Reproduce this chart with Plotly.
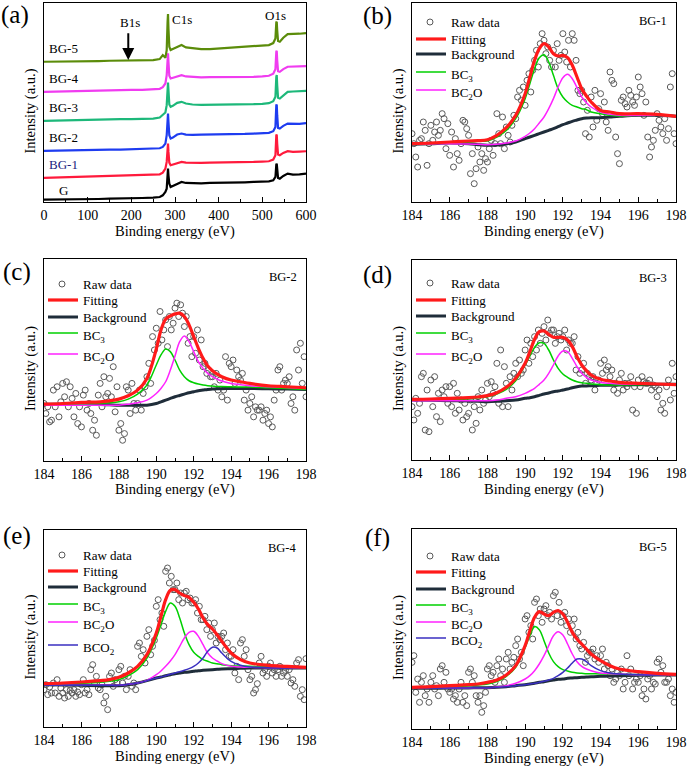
import numpy as np
import plotly.graph_objects as go

FONT = "Liberation Serif, 'Times New Roman', Times, serif"

# ---------------- (a) survey spectra ----------------
survey_x = [0, 25, 50, 75, 100, 125, 150, 175, 200, 225, 250, 265, 272, 278, 281, 283, 284, 285, 287, 290,
            295, 305, 315, 325, 340, 360, 380, 400, 420, 440, 460, 480, 500, 515, 525, 530, 532, 533, 534, 536,
            540, 548, 558, 570, 585, 600]
survey_G = [7, 7, 8, 8, 9, 9, 10, 10, 11, 12, 13, 15, 20, 30, 40, 80, 100, 80, 55, 45,
            48, 56, 60, 57, 56, 56, 57, 57, 58, 58, 59, 60, 61, 62, 65, 75, 112, 115, 100, 72,
            70, 78, 85, 82, 83, 85]
survey_BG1 = [72, 73, 74, 75, 76, 77, 78, 78, 79, 80, 81, 83, 88, 100, 120, 165, 175, 150, 118, 110,
              112, 118, 120, 118, 117, 117, 118, 118, 119, 119, 120, 120, 121, 122, 127, 140, 200, 202, 175, 142,
              140, 147, 152, 150, 151, 152]
survey_BG2 = [153, 154, 154, 155, 156, 156, 157, 157, 158, 158, 159, 161, 165, 175, 200, 250, 265, 240, 200, 190,
              193, 202, 205, 202, 201, 202, 202, 204, 203, 203, 204, 205, 205, 207, 212, 225, 290, 292, 260, 222,
              220, 228, 235, 234, 234, 236]
survey_BG3 = [243, 244, 244, 245, 246, 246, 247, 248, 248, 249, 250, 253, 260, 268, 290, 345, 358, 335, 292, 285,
              288, 297, 300, 295, 292, 291, 291, 292, 291, 291, 292, 293, 294, 296, 302, 315, 375, 380, 350, 312,
              310, 320, 330, 331, 332, 333]
survey_BG4 = [330, 331, 331, 332, 333, 334, 334, 335, 336, 336, 337, 339, 344, 355, 380, 430, 445, 420, 378, 370,
              372, 378, 380, 376, 374, 373, 374, 374, 373, 374, 375, 375, 376, 378, 384, 398, 450, 453, 425, 392,
              390, 398, 405, 405, 406, 407]
survey_BG5 = [420, 420, 421, 421, 422, 422, 423, 423, 424, 424, 425, 428, 440, 432, 455, 540, 563, 520, 465, 455,
              458, 466, 470, 463, 460, 458, 458, 460, 461, 462, 464, 466, 468, 470, 476, 490, 538, 540, 515, 482,
              480, 492, 503, 503, 504, 506]
survey_names = ["G", "BG-1", "BG-2", "BG-3", "BG-4", "BG-5"]
survey_colors = ["#000000", "#FF1A3C", "#1E3CF0", "#1DB87A", "#F03CF0", "#5B8C0A"]
survey_label_y = [35, 113, 193, 282, 370, 460]
survey_label_colors = ["#000000", "#1A237E", "#000000", "#000000", "#000000", "#000000"]

# ---------------- (b)-(f) B1s fits ----------------
fit_x = [184, 185, 186, 187, 187.5, 188, 188.5, 189, 189.5, 190, 190.25, 190.5, 190.75, 191, 191.25,
         191.5, 191.75, 192, 192.25, 192.5, 192.75, 193, 193.25, 193.5, 194, 194.5, 195, 196, 197, 198]
raw_x = np.round(np.linspace(184, 198, 141), 2)

b_raw = [205, 175, 135, 105, 185, 190, 240, 215, 110, 175, 230, 185, 210, 240, 200, 215, 265, 250, 160, 235,
         140, 210, 105, 190, 145, 125, 175, 245, 240, 220, 200, 85, 145, 55, 100, 165, 120, 145, 95, 130,
         120, 160, 185, 140, 175, 265, 205, 175, 255, 160, 225, 200, 180, 230, 260, 250, 315, 335, 305, 345,
         290, 365, 385, 330, 395, 425, 455, 405, 475, 505, 485, 445, 465, 425, 405, 455, 405, 475, 425, 440,
         505, 450, 420, 485, 405, 505, 485, 425, 335, 325, 335, 300, 205, 275, 195, 315, 225, 335, 245, 280,
         325, 265, 300, 240, 215, 390, 365, 355, 195, 145, 115, 305, 315, 295, 285, 335, 320, 300, 290, 315,
         375, 345, 325, 260, 300, 195, 135, 165, 185, 215, 265, 245, 225, 205, 250, 185, 220, 345, 385, 205,
         175]
b_fit = [175, 177, 180, 183, 184, 187, 200, 223, 260, 325, 375, 425, 460, 475, 465, 445, 438, 440, 433, 410,
         375, 340, 318, 300, 275, 270, 265, 265, 263, 257]
b_bg = [173, 175, 177, 175, 172, 170, 171, 174, 180, 190, 195, 200, 205, 210, 215, 220, 226, 232, 237, 242,
        246, 250, 252, 253, 253, 255, 257, 260, 260, 257]
b_bc3 = [173, 175, 177, 180, 182, 183, 195, 215, 250, 310, 355, 400, 433, 442, 420, 380, 340, 315, 300, 290,
         285, 280, 277, 270, 265, 260, 258, 260, 260, 257]
b_bc2o = [173, 174, 175, 174, 173, 172, 173, 177, 183, 197, 207, 220, 237, 255, 280, 310, 345, 373, 383, 370,
          343, 315, 298, 285, 270, 263, 260, 260, 260, 257]

c_raw = [172, 142, 162, 117, 122, 212, 162, 222, 132, 177, 232, 192, 237, 162, 222, 187, 132, 202, 112, 162,
         102, 197, 212, 152, 172, 142, 92, 122, 77, 197, 232, 162, 252, 192, 202, 247, 192, 282, 147, 222,
         92, 112, 62, 82, 222, 212, 142, 232, 172, 152, 172, 212, 152, 202, 222, 252, 292, 232, 372, 332,
         397, 352, 447, 362, 392, 422, 342, 432, 392, 412, 457, 472, 432, 467, 442, 402, 432, 352, 372, 312,
         372, 322, 392, 302, 362, 282, 292, 262, 272, 252, 252, 222, 262, 212, 242, 192, 212, 312, 182, 292,
         282, 302, 232, 272, 252, 242, 262, 182, 212, 152, 172, 192, 132, 162, 152, 152, 162, 122, 142, 152,
         112, 132, 102, 182, 212, 272, 282, 212, 232, 242, 232, 252, 172, 192, 152, 332, 272, 352, 232, 312,
         192]
c_fit = [170, 172, 175, 177, 180, 185, 195, 212, 247, 335, 392, 424, 434, 440, 442, 432, 407, 372, 337, 307,
         284, 270, 260, 252, 242, 237, 232, 225, 222, 219]
c_bg = [170, 170, 170, 169, 168, 167, 167, 167, 167, 172, 177, 182, 187, 192, 196, 200, 204, 207, 210, 212,
        214, 215, 216, 216, 217, 217, 217, 216, 215, 214]
c_bc3 = [167, 168, 169, 172, 174, 177, 185, 200, 227, 287, 317, 335, 327, 302, 272, 252, 240, 234, 230, 227,
         225, 224, 223, 223, 222, 221, 221, 219, 217, 214]
c_bc2o = [167, 167, 167, 167, 167, 167, 170, 174, 182, 202, 217, 237, 272, 314, 357, 374, 357, 327, 297, 277,
          262, 252, 245, 239, 232, 228, 225, 222, 220, 217]

d_raw = [160, 120, 185, 140, 170, 250, 260, 90, 210, 85, 240, 160, 250, 130, 200, 115, 210, 190, 220, 170,
         220, 160, 230, 140, 200, 150, 180, 120, 170, 130, 140, 180, 90, 160, 110, 190, 150, 210, 170, 180,
         230, 190, 235, 200, 220, 290, 170, 330, 160, 280, 230, 160, 250, 210, 260, 290, 250, 300, 260, 270,
         330, 360, 290, 350, 310, 370, 330, 390, 350, 380, 400, 360, 420, 380, 390, 390, 350, 370, 380, 360,
         370, 390, 330, 360, 350, 350, 370, 270, 310, 260, 270, 290, 230, 260, 250, 240, 250, 210, 230, 240,
         290, 260, 300, 270, 280, 250, 270, 210, 230, 200, 240, 260, 210, 230, 220, 230, 250, 150, 220, 140,
         240, 220, 250, 235, 230, 230, 240, 210, 225, 220, 190, 210, 150, 170, 140, 220, 240, 180, 290, 200,
         250]
d_fit = [182, 183, 185, 187, 189, 193, 202, 218, 245, 290, 325, 362, 385, 387, 377, 368, 368, 368, 360, 340,
         310, 285, 268, 255, 242, 237, 233, 230, 228, 226]
d_bg = [180, 179, 178, 177, 176, 175, 176, 178, 180, 185, 187, 190, 194, 198, 201, 205, 207, 210, 213, 217,
        220, 222, 222, 223, 224, 224, 225, 226, 227, 227]
d_bc3 = [180, 181, 182, 184, 187, 190, 198, 212, 238, 285, 312, 338, 352, 350, 330, 300, 275, 258, 248, 240,
         235, 232, 230, 228, 226, 225, 225, 226, 227, 227]
d_bc2o = [178, 178, 178, 178, 178, 178, 180, 185, 190, 200, 207, 215, 227, 240, 260, 285, 312, 327, 325, 305,
          280, 260, 248, 240, 233, 230, 228, 227, 227, 227]

e_raw = [112, 127, 97, 120, 102, 132, 102, 142, 92, 117, 102, 87, 112, 92, 110, 102, 112, 92, 105, 97,
         127, 142, 102, 112, 97, 172, 187, 132, 152, 117, 112, 127, 72, 92, 52, 152, 162, 122, 142, 132,
         172, 182, 132, 152, 112, 152, 172, 122, 132, 112, 242, 252, 212, 232, 192, 272, 292, 217, 242, 260,
         362, 382, 322, 342, 302, 467, 477, 432, 452, 412, 412, 432, 382, 402, 372, 402, 407, 382, 387, 372,
         372, 382, 342, 362, 322, 322, 332, 292, 312, 272, 292, 312, 252, 272, 262, 272, 282, 232, 252, 212,
         212, 232, 162, 182, 142, 252, 262, 212, 232, 172, 142, 152, 102, 112, 130, 192, 212, 162, 172, 152,
         182, 192, 162, 172, 152, 172, 182, 152, 162, 170, 152, 172, 132, 142, 122, 192, 202, 92, 112, 82,
         205]
e_fit = [130, 132, 135, 139, 142, 149, 162, 182, 217, 282, 332, 382, 410, 412, 402, 394, 389, 374, 354, 327,
         307, 294, 277, 257, 222, 202, 192, 185, 182, 179]
e_bg = [127, 126, 125, 124, 124, 124, 127, 132, 139, 147, 150, 154, 157, 160, 162, 164, 165, 167, 169, 170,
        171, 172, 173, 174, 175, 176, 177, 177, 177, 177]
e_bc3 = [127, 129, 131, 134, 137, 142, 154, 172, 207, 267, 307, 347, 372, 362, 327, 282, 247, 224, 212, 202,
         197, 192, 190, 187, 184, 183, 182, 180, 179, 178]
e_bc2o = [125, 125, 125, 125, 125, 125, 128, 132, 140, 157, 168, 182, 198, 217, 242, 267, 284, 287, 272, 247,
          222, 207, 198, 190, 182, 180, 179, 178, 178, 177]
e_bco2 = [125, 125, 125, 125, 125, 125, 128, 132, 139, 147, 150, 154, 158, 162, 166, 170, 175, 182, 192, 207,
          227, 239, 237, 222, 197, 185, 180, 178, 177, 177]

f_raw = [200, 220, 110, 150, 80, 140, 160, 100, 120, 80, 140, 160, 120, 130, 100, 180, 190, 140, 170, 120,
         110, 120, 90, 100, 80, 120, 140, 80, 100, 70, 170, 180, 140, 160, 100, 80, 100, 50, 70, 110,
         180, 190, 160, 170, 140, 190, 210, 160, 180, 140, 210, 230, 180, 200, 215, 250, 270, 210, 230, 190,
         330, 340, 290, 310, 270, 380, 390, 340, 360, 320, 360, 370, 340, 350, 330, 400, 410, 340, 380, 320,
         340, 350, 310, 330, 290, 310, 330, 270, 290, 250, 240, 260, 200, 220, 230, 230, 240, 210, 220, 200,
         220, 240, 180, 200, 190, 160, 180, 140, 150, 170, 160, 180, 120, 140, 220, 160, 180, 120, 140, 150,
         140, 160, 100, 120, 90, 150, 160, 120, 140, 135, 200, 210, 170, 190, 140, 140, 150, 100, 120, 80,
         110]
f_fit = [125, 127, 130, 133, 135, 140, 147, 162, 190, 250, 295, 335, 352, 345, 340, 350, 355, 345, 320, 290,
         270, 255, 240, 225, 205, 190, 180, 172, 167, 164]
f_bg = [122, 122, 123, 123, 124, 124, 125, 127, 130, 133, 135, 137, 140, 142, 145, 147, 149, 150, 152, 153,
        154, 155, 156, 157, 158, 159, 160, 161, 162, 162]
f_bc3 = [123, 124, 125, 130, 132, 135, 142, 158, 185, 245, 280, 307, 298, 265, 228, 202, 187, 178, 174, 170,
         168, 167, 166, 166, 165, 165, 164, 163, 163, 162]
f_bc2o = [122, 122, 123, 123, 124, 124, 126, 130, 137, 150, 160, 175, 195, 220, 250, 280, 292, 282, 255, 225,
          202, 188, 180, 175, 168, 166, 165, 163, 163, 162]
f_bco2 = [122, 122, 123, 123, 124, 124, 125, 127, 130, 133, 135, 137, 140, 143, 147, 152, 160, 170, 183, 198,
          210, 210, 202, 190, 175, 168, 165, 163, 162, 162]

legend_labels = ["Raw data", "Fitting", "Background", "BC<sub>3</sub>", "BC<sub>2</sub>O", "BCO<sub>2</sub>"]

W, H = 687, 767
boxes = {
    1: (44, 306, 3, 202),
    2: (412, 676, 3, 202),
    3: (44, 306, 259, 461),
    4: (412, 676, 260, 460),
    5: (44, 306, 530, 727),
    6: (412, 676, 529, 729),
}
yranges = {1: 596, 2: 597, 3: 604, 4: 600, 5: 591, 6: 600}
panel_letters = {1: "(a)", 2: "(b)", 3: "(c)", 4: "(d)", 5: "(e)", 6: "(f)"}
letter_pos = {1: (15, 15), 2: (378, 16), 3: (17, 272), 4: (377, 275), 5: (17, 536), 6: (378, 538)}
sample_names = {2: "BG-1", 3: "BG-2", 4: "BG-3", 5: "BG-4", 6: "BG-5"}
legend_rows = {2: [19, 36, 51, 69, 87], 3: [25, 41, 58, 74, 95], 4: [23, 40, 56, 73, 94],
               5: [25, 41, 57, 74, 92, 115], 6: [27, 43, 60, 76, 93, 109]}

C_RAW, C_FIT, C_BG = "#5a5a5a", "#FF1A1A", "#1f2d3a"
C_BC3, C_BC2O, C_BCO2 = "#00D000", "#FF22FF", "#3A2FC0"
series_style = [None, (C_FIT, 3.2), (C_BG, 3), (C_BC3, 1.5), (C_BC2O, 1.5), (C_BCO2, 1.5)]

fig = go.Figure()

for name, ys, col in zip(survey_names, [survey_G, survey_BG1, survey_BG2, survey_BG3, survey_BG4, survey_BG5],
                         survey_colors):
    fig.add_trace(go.Scatter(x=survey_x, y=ys, mode="lines", line=dict(color=col, width=2.2),
                             name=name, xaxis="x", yaxis="y"))

panels = {
    2: (b_raw, b_fit, b_bg, b_bc3, b_bc2o, None),
    3: (c_raw, c_fit, c_bg, c_bc3, c_bc2o, None),
    4: (d_raw, d_fit, d_bg, d_bc3, d_bc2o, None),
    5: (e_raw, e_fit, e_bg, e_bc3, e_bc2o, e_bco2),
    6: (f_raw, f_fit, f_bg, f_bc3, f_bc2o, f_bco2),
}
for i, (raw, fit, bg, bc3, bc2o, bco2) in panels.items():
    xa, ya = f"x{i}", f"y{i}"
    fig.add_trace(go.Scatter(x=raw_x, y=raw, mode="markers", name="Raw data",
                             marker=dict(symbol="circle-open", size=6, color=C_RAW, line=dict(width=1)),
                             xaxis=xa, yaxis=ya))
    fig.add_trace(go.Scatter(x=fit_x, y=bg, mode="lines", name="Background",
                             line=dict(color=C_BG, width=3, shape="spline"), xaxis=xa, yaxis=ya))
    fig.add_trace(go.Scatter(x=fit_x, y=bc3, mode="lines", name="BC3",
                             line=dict(color=C_BC3, width=1.5, shape="spline"), xaxis=xa, yaxis=ya))
    fig.add_trace(go.Scatter(x=fit_x, y=bc2o, mode="lines", name="BC2O",
                             line=dict(color=C_BC2O, width=1.5, shape="spline"), xaxis=xa, yaxis=ya))
    if bco2 is not None:
        fig.add_trace(go.Scatter(x=fit_x, y=bco2, mode="lines", name="BCO2",
                                 line=dict(color=C_BCO2, width=1.5, shape="spline"), xaxis=xa, yaxis=ya))
    fig.add_trace(go.Scatter(x=fit_x, y=fit, mode="lines", name="Fitting",
                             line=dict(color=C_FIT, width=3.2, shape="spline"), xaxis=xa, yaxis=ya))

layout = dict(width=W, height=H, margin=dict(l=0, r=0, t=0, b=0), paper_bgcolor="white", template="none",
              plot_bgcolor="white", font=dict(family=FONT, color="black", size=14), showlegend=False)

annotations, shapes = [], []
for i, (l, r, t, b) in boxes.items():
    xdom = [l / W, r / W]
    ydom = [1 - b / H, 1 - t / H]
    sfx = "" if i == 1 else str(i)
    if i == 1:
        xr, dt, mdt = [0, 600], 100, 50
    else:
        xr, dt, mdt = [184, 198], 2, 1
    layout["xaxis" + sfx] = dict(
        domain=xdom, anchor="y" + sfx, range=xr, tick0=xr[0], dtick=dt,
        ticks="inside", ticklen=5, tickwidth=1, tickcolor="black", ticklabeloverflow="allow",
        minor=dict(ticks="inside", ticklen=3, dtick=mdt, tickcolor="black", tickwidth=1),
        showline=True, linecolor="black", linewidth=1, mirror=True, showgrid=False, zeroline=False,
        tickfont=dict(family=FONT, size=14, color="black"))
    layout["yaxis" + sfx] = dict(
        domain=ydom, anchor="x" + sfx, range=[0, yranges[i]], showticklabels=False, ticks="",
        showline=True, linecolor="black", linewidth=1, mirror=True, showgrid=False, zeroline=False)
    annotations.append(dict(text="Binding energy (eV)", x=(l + r) / 2 / W, y=1 - (b + 19.5) / H,
                            xref="paper", yref="paper", showarrow=False, xanchor="center", yanchor="top",
                            borderpad=0, font=dict(family=FONT, size=14.5, color="black")))
    annotations.append(dict(text="Intensity (a.u.)", x=(l - 14) / W, y=1 - ((t + b) / 2 + 9) / H,
                            xref="paper", yref="paper", showarrow=False, xanchor="center", yanchor="middle",
                            textangle=-90, font=dict(family=FONT, size=14.5, color="black")))
    lx, ly = letter_pos[i]
    annotations.append(dict(text=panel_letters[i], x=lx / W, y=1 - ly / H, xref="paper", yref="paper",
                            showarrow=False, font=dict(family=FONT, size=25), xanchor="center", yanchor="middle"))
    if i > 1:
        pw, ph = r - l, b - t
        xd, yd = f"x{i} domain", f"y{i} domain"
        annotations.append(dict(text=sample_names[i], x=0.975, y=0.955, xref=xd, yref=yd,
                                showarrow=False, font=dict(family=FONT, size=12.5), xanchor="right", yanchor="top"))
        for k, off in enumerate(legend_rows[i]):
            yy = 1 - off / ph
            sub = "<sub>" in legend_labels[k]
            annotations.append(dict(text=legend_labels[k], x=37 / pw, y=1 - (off + (3 if sub else 0)) / ph,
                                    xref=xd, yref=yd, showarrow=False, xanchor="left", yanchor="middle",
                                    font=dict(family=FONT, size=13, color="black")))
            if series_style[k] is None:
                shapes.append(dict(type="circle", xref=xd, yref=yd, xsizemode="pixel", ysizemode="pixel",
                                   xanchor=18 / pw, yanchor=yy, x0=-3, x1=3, y0=-3, y1=3,
                                   line=dict(color=C_RAW, width=1)))
            else:
                col, wd = series_style[k]
                shapes.append(dict(type="line", xref=xd, yref=yd, x0=4 / pw, x1=34 / pw, y0=yy, y1=yy,
                                   line=dict(color=col, width=wd)))

for name, yl, col in zip(survey_names, survey_label_y, survey_label_colors):
    annotations.append(dict(text=name, x=44, y=yl, xref="x", yref="y", showarrow=False,
                            font=dict(family=FONT, size=13, color=col)))
annotations.append(dict(text="B1s", x=196, y=537, xref="x", yref="y", showarrow=False,
                        font=dict(family=FONT, size=13)))
annotations.append(dict(text="C1s", x=315, y=547, xref="x", yref="y", showarrow=False,
                        font=dict(family=FONT, size=13)))
annotations.append(dict(text="O1s", x=529, y=560, xref="x", yref="y", showarrow=False,
                        font=dict(family=FONT, size=13)))
annotations.append(dict(text="", x=193, y=425, ax=193, ay=510, xref="x", yref="y", axref="x", ayref="y",
                        showarrow=True, arrowhead=2, arrowsize=1.2, arrowwidth=2, arrowcolor="black"))
layout["annotations"] = annotations
layout["shapes"] = shapes

fig.update_layout(**layout)
fig.write_html("out.html")
